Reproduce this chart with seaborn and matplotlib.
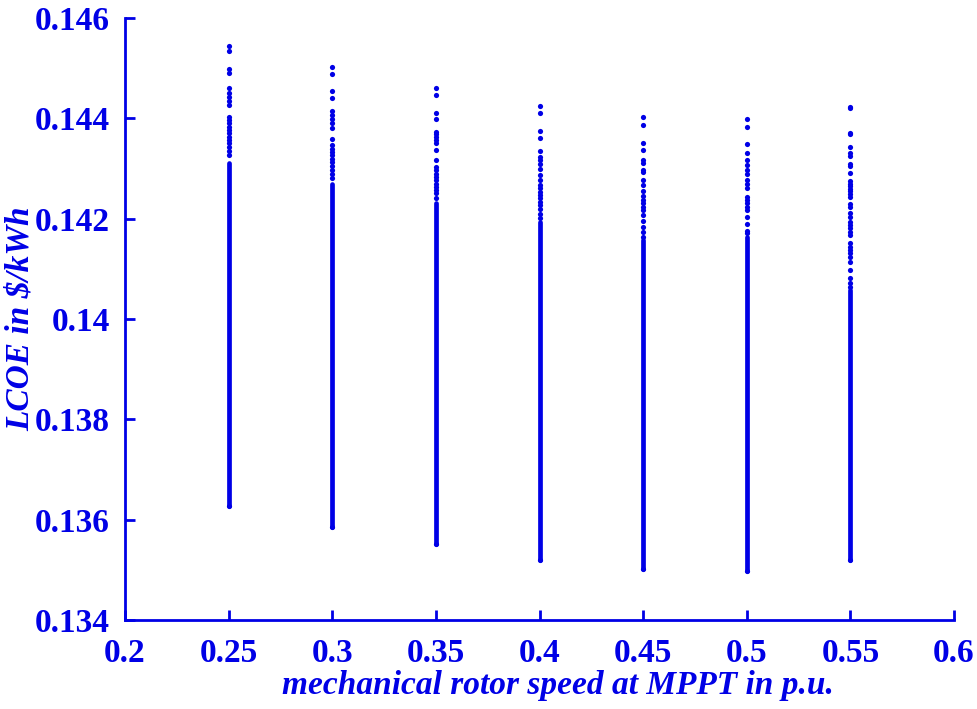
import matplotlib
matplotlib.use("Agg")
import matplotlib.pyplot as plt
import pandas as pd
import seaborn as sns

# Rotor speed settings (p.u.) and the LCOE spread found at each one
speeds = [0.25, 0.30, 0.35, 0.40, 0.45, 0.50, 0.55]
lcoe_min = [0.13628, 0.13586, 0.13551, 0.13520, 0.13502, 0.13498, 0.13520]
# upper edge of the continuous band of solutions at each speed
lcoe_band_top = [0.14312, 0.14270, 0.14231, 0.14193, 0.14157, 0.14163, 0.14058]

# isolated solutions above the continuous band
upper_025 = [0.14545, 0.14535, 0.14498, 0.14490, 0.14460, 0.14451, 0.14443,
             0.14435, 0.14427, 0.14403, 0.14397, 0.14390, 0.14383, 0.14377,
             0.14370, 0.14363, 0.14357, 0.14350, 0.14343, 0.14335, 0.14328]
upper_030 = [0.14502, 0.14488, 0.14454, 0.14441, 0.14415, 0.14407, 0.14399,
             0.14390, 0.14381, 0.14359, 0.14347, 0.14340, 0.14334, 0.14327,
             0.14320, 0.14314, 0.14305, 0.14297, 0.14290, 0.14282]
upper_035 = [0.14460, 0.14446, 0.14411, 0.14398, 0.14373, 0.14369, 0.14363,
             0.14356, 0.14350, 0.14337, 0.14317, 0.14304, 0.14297, 0.14290,
             0.14284, 0.14277, 0.14270, 0.14264, 0.14257, 0.14251, 0.14241]
upper_040 = [0.14425, 0.14410, 0.14375, 0.14361, 0.14335, 0.14324, 0.14318,
             0.14310, 0.14300, 0.14288, 0.14278, 0.14267, 0.14261, 0.14254,
             0.14247, 0.14241, 0.14234, 0.14227, 0.14219, 0.14210, 0.14201]
upper_045 = [0.14402, 0.14386, 0.14351, 0.14337, 0.14317, 0.14312, 0.14298,
             0.14294, 0.14277, 0.14267, 0.14256, 0.14245, 0.14237, 0.14231,
             0.14224, 0.14217, 0.14207, 0.14196, 0.14184, 0.14174, 0.14164]
upper_050 = [0.14398, 0.14382, 0.14348, 0.14332, 0.14317, 0.14308, 0.14297,
             0.14289, 0.14277, 0.14269, 0.14261, 0.14244, 0.14237, 0.14231,
             0.14224, 0.14217, 0.14204, 0.14189, 0.14176, 0.14171]
upper_055 = [0.14422, 0.14420, 0.14371, 0.14368, 0.14342, 0.14332, 0.14325,
             0.14310, 0.14306, 0.14292, 0.14275, 0.14270, 0.14265, 0.14260,
             0.14255, 0.14249, 0.14244, 0.14229, 0.14224, 0.14211, 0.14204,
             0.14194, 0.14187, 0.14181, 0.14174, 0.14167, 0.14151, 0.14144,
             0.14138, 0.14131, 0.14124, 0.14114, 0.14098, 0.14081, 0.14071,
             0.14064]
upper_points = [upper_025, upper_030, upper_035, upper_040,
                upper_045, upper_050, upper_055]

x_ticks = [0.2, 0.25, 0.3, 0.35, 0.4, 0.45, 0.5, 0.55, 0.6]
x_tick_labels = ["0.2", "0.25", "0.3", "0.35", "0.4", "0.45", "0.5", "0.55", "0.6"]
y_ticks = [0.134, 0.136, 0.138, 0.140, 0.142, 0.144, 0.146]
y_tick_labels = ["0.134", "0.136", "0.138", "0.14", "0.142", "0.144", "0.146"]

BLUE = "#0000e6"

sns.set_theme(style="white")
plt.rcParams["font.family"] = ["Liberation Serif", "DejaVu Serif"]
plt.rcParams["font.weight"] = "bold"

rows = []
for s, lo, ups in zip(speeds, lcoe_min, upper_points):
    rows.append({"speed": s, "lcoe": lo})
    rows.extend({"speed": s, "lcoe": u} for u in ups)
points = pd.DataFrame(rows)

fig = plt.figure(figsize=(9.77, 7.09), dpi=100)
ax = fig.add_axes([0.128, 0.1255, 0.8485, 0.849])

# continuous band of solutions at each speed
ax.vlines(speeds, lcoe_min, lcoe_band_top, colors=BLUE, linewidth=3.4,
          capstyle="round", zorder=2)
sns.scatterplot(data=points, x="speed", y="lcoe", ax=ax, color=BLUE,
                s=14, linewidth=0, zorder=3, legend=False)

ax.set_xlim(0.2, 0.6)
ax.set_ylim(0.134, 0.146)
ax.set_xticks(x_ticks)
ax.set_xticklabels(x_tick_labels)
ax.set_yticks(y_ticks)
ax.set_yticklabels(y_tick_labels)

for side in ("top", "right"):
    ax.spines[side].set_visible(False)
for side in ("left", "bottom"):
    ax.spines[side].set_color(BLUE)
    ax.spines[side].set_linewidth(2.0)

ax.tick_params(axis="both", direction="in", length=7, width=2.0,
               colors=BLUE, labelsize=24, left=True, bottom=True)
ax.tick_params(axis="y", pad=11)
ax.tick_params(axis="x", pad=13)
for lab in ax.get_xticklabels() + ax.get_yticklabels():
    lab.set_fontweight("bold")

ax.set_xlabel("mechanical rotor speed at MPPT in p.u.", fontsize=24,
              fontweight="bold", fontstyle="italic", color=BLUE)
ax.set_ylabel("LCOE in $/kWh", fontsize=24, fontweight="bold",
              fontstyle="italic", color=BLUE)
ax.xaxis.set_label_coords(0.522, -0.083)
ax.yaxis.set_label_coords(-0.108, 0.5)

fig.savefig("out.png", dpi=100, facecolor="white")
